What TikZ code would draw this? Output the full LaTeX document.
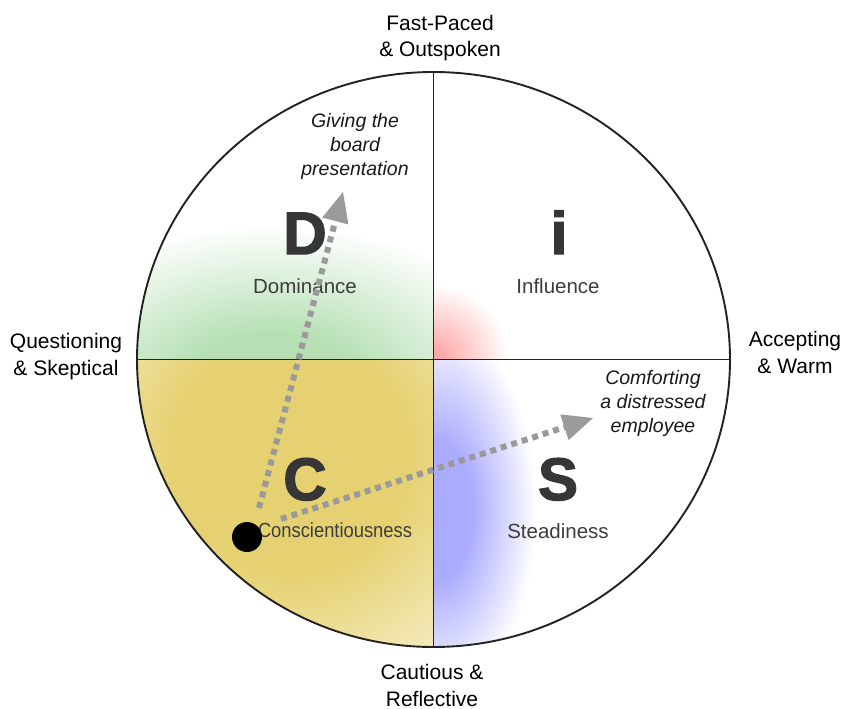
\documentclass[tikz,border=0pt]{standalone}
\usepackage{fontspec}
\setmainfont{Liberation Sans}
\newfontfamily\bigfont[FakeBold=2.2]{Liberation Sans Bold}
\usetikzlibrary{arrows.meta,shapes.geometric}
\definecolor{cG}{HTML}{B6E0B4}
\definecolor{cR}{HTML}{FFA4A4}
\definecolor{cB}{HTML}{ABABFF}
\definecolor{cYa}{HTML}{E6D172}
\definecolor{cYb}{HTML}{F4EDC4}
\definecolor{arrowgray}{HTML}{9A9A9A}
\definecolor{namegray}{HTML}{3D3D3D}
\definecolor{biggray}{HTML}{363636}
\definecolor{rimcol}{HTML}{222222}
\pgfdeclareradialshading{glowG}{\pgfpoint{0bp}{0bp}}{color(0bp)=(cG); color(8bp)=(cG); color(25bp)=(white); color(50bp)=(white)}
\pgfdeclareradialshading{glowR}{\pgfpoint{0bp}{0bp}}{color(0bp)=(cR); color(2bp)=(cR); color(25bp)=(white); color(50bp)=(white)}
\pgfdeclareradialshading{glowB}{\pgfpoint{0bp}{0bp}}{color(0bp)=(cB); color(9bp)=(cB); color(25bp)=(white); color(50bp)=(white)}
\pgfdeclareradialshading{glowY}{\pgfpoint{0bp}{0bp}}{color(0bp)=(cYa); color(12bp)=(cYa); color(25bp)=(cYb); color(50bp)=(cYb)}
\begin{document}
\begin{tikzpicture}[x=1pt,y=-1pt,
  rim/.style={draw=rimcol, line width=1.9pt},
  outerlabel/.style={anchor=base, align=center, inner sep=0pt, font=\fontsize{21}{27}\selectfont},
  scenario/.style={anchor=base, align=center, inner sep=0pt, text=black!90, font=\itshape\fontsize{19.5}{23.8}\selectfont},
  bigletter/.style={anchor=base, inner sep=0pt, text=biggray, font=\bigfont\fontsize{60}{60}\selectfont},
  stylename/.style={anchor=base, inner sep=0pt, text=namegray, font=\fontsize{20.5}{24}\selectfont},
  arrowline/.style={draw=arrowgray, line width=6pt, dash pattern=on 6pt off 5pt,
     -{Triangle[length=30pt,width=27pt,line width=0pt,color=arrowgray]}}]
\useasboundingbox (0,0) rectangle (846,709);
\fill[white] (0,0) rectangle (846,709);
% quadrant colouring
\begin{scope}
  \clip (433.5,359.5) ellipse [x radius=296.5, y radius=287.5];
  \begin{scope}
    \clip (130,60) rectangle (433.5,359.5);
    \shade[shading=glowG] (272,385) ellipse [x radius=270, y radius=160];
  \end{scope}
  \begin{scope}
    \clip (433.5,60) rectangle (740,359.5);
    \shade[shading=glowR] (433.5,359.5) circle [radius=75];
  \end{scope}
  \begin{scope}
    \clip (433.5,359.5) rectangle (740,660);
    \shade[shading=glowB] (436,510) ellipse [x radius=100, y radius=190];
  \end{scope}
  \begin{scope}
    \clip (130,359.5) rectangle (433.5,660);
    \shade[shading=glowY] (290,455) circle [radius=250];
  \end{scope}
\end{scope}
% outline and axes
\node[rim, ellipse, minimum width=593pt, minimum height=575pt, inner sep=0pt] (disc) at (433.5,359.5) {};
\draw[rim] (disc.north) -- (disc.south);
\draw[rim] (disc.west) -- (disc.east);
% big letters and names
\node[bigletter] (bigD) at (305,254) {D};
\node[bigletter] (bigI) at (559,254) {i};
\node[bigletter] (bigC) at (305,500) {C};
\node[bigletter] (bigS) at (558,500) {S};
\node[stylename] (nameD) at (305,293) {Dominance};
\node[stylename] (nameI) at (558,293) {Influence};
\node[stylename] (nameC) at (335,537) {\scalebox{0.895}[1]{Conscientiousness}};
\node[stylename] (nameS) at (558,538) {Steadiness};
% outer axis labels (anchored at the baseline of their last line)
\node[outerlabel] (top) at (440,57) {Fast-Paced\\\& Outspoken};
\node[outerlabel] (left) at (66,375) {Questioning\\\& Skeptical};
\node[outerlabel] (right) at (795,373) {Accepting\\\& Warm};
\node[outerlabel] (bottom) at (432,706) {Cautious \&\\Reflective};
% scenarios
\node[scenario] (board) at (355,175) {Giving the\\board\\presentation};
\node[scenario] (comfort) at (653,432) {Comforting\\a distressed\\employee};
% arrows from the dot
\coordinate (a1s) at (259,508);
\coordinate (a1e) at (343,192);
\coordinate (a2s) at (281,519);
\coordinate (a2e) at (593,418);
\draw[arrowline] (a1s) -- (a1e);
\draw[arrowline] (a2s) -- (a2e);
\node[circle, fill=black, minimum size=30pt, inner sep=0pt] (dot) at (247,537) {};
\end{tikzpicture}
\end{document}
